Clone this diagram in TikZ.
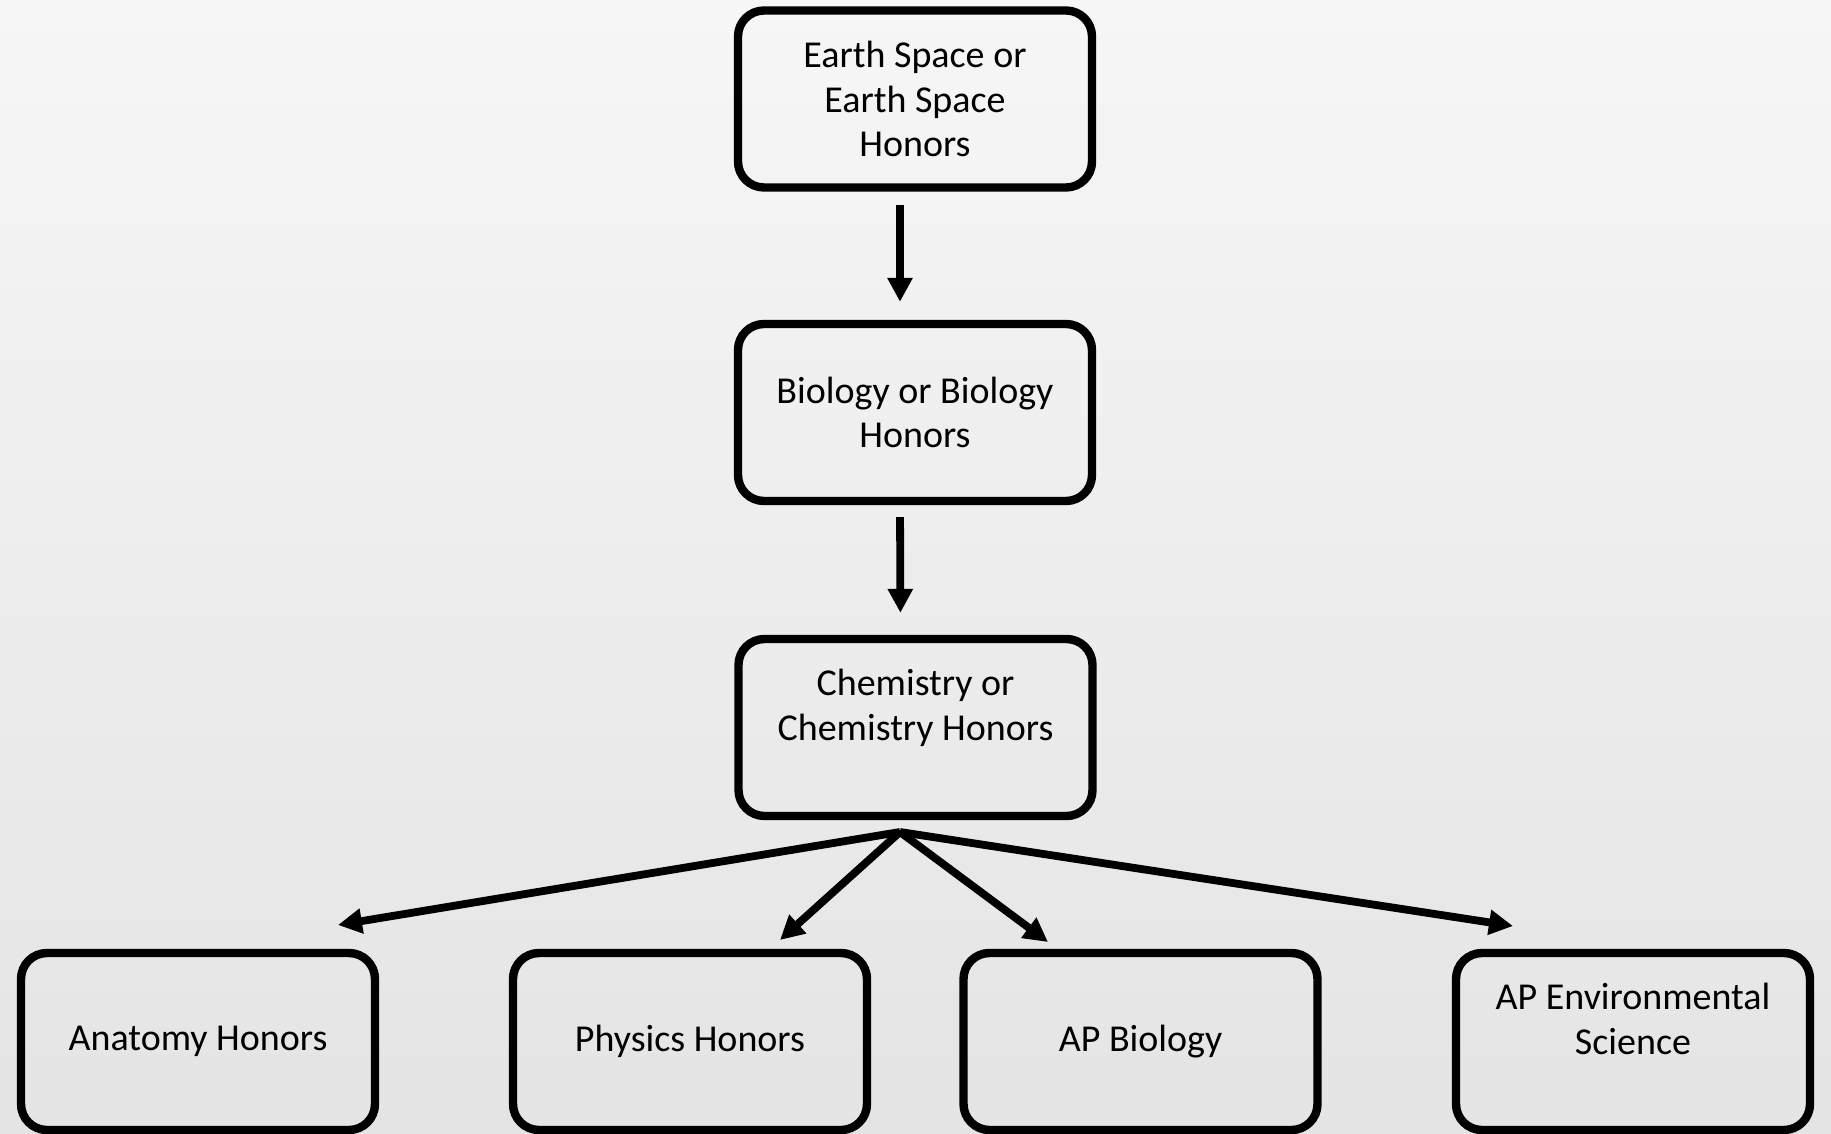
\documentclass[tikz,border=0pt]{standalone}
\usepackage{fontspec}
\setmainfont{Carlito}
\usetikzlibrary{arrows.meta}
\begin{document}
\begin{tikzpicture}[x=0.5pt,y=-0.5pt,
  course/.style={draw=black,line width=4.2pt,rounded corners=13pt,
    minimum width=177pt,minimum height=88.5pt,align=center,inner sep=0pt,
    font=\fontsize{19}{22.4}\selectfont},
  arr/.style={line width=3.9pt,-{Triangle[length=12pt,width=12pt]}}]
\useasboundingbox (0,0) rectangle (1831,1134);
\fill[top color=black!3.5,bottom color=black!10.5] (0,0) rectangle (1831,1134);
\node[course] (es) at (915,99) {Earth Space or\\Earth Space\\Honors};
\node[course] (bio) at (915,412.5) {Biology or Biology\\Honors};
\node[course] (chem) at (915.5,727.5) {Chemistry or\\Chemistry Honors\\~};
\node[course] (anat) at (198,1041.5) {Anatomy Honors};
\node[course] (phys) at (690,1041.5) {Physics Honors};
\node[course] (apbio) at (1140.5,1041.5) {AP Biology};
\node[course] (apenv) at (1633,1041.5) {AP Environmental\\Science\\~};
\draw[arr,shorten <=6.5pt,shorten >=9pt] ([xshift=-7.5pt]es.south) -- ([xshift=-7.5pt]bio.north);
\draw[arr,shorten <=6pt,shorten >=11pt] ([xshift=-7.5pt]bio.south) -- ([xshift=-7.5pt]chem.north);
\coordinate (br) at (900,832);
\coordinate (tanat) at (338,925);
\coordinate (tphys) at (780,940);
\coordinate (tapbio) at (1048,942);
\coordinate (tapenv) at (1513,926);
\draw[arr] (br) -- (tanat);
\draw[arr] (br) -- (tphys);
\draw[arr] (br) -- (tapbio);
\draw[arr] (br) -- (tapenv);
\end{tikzpicture}
\end{document}
